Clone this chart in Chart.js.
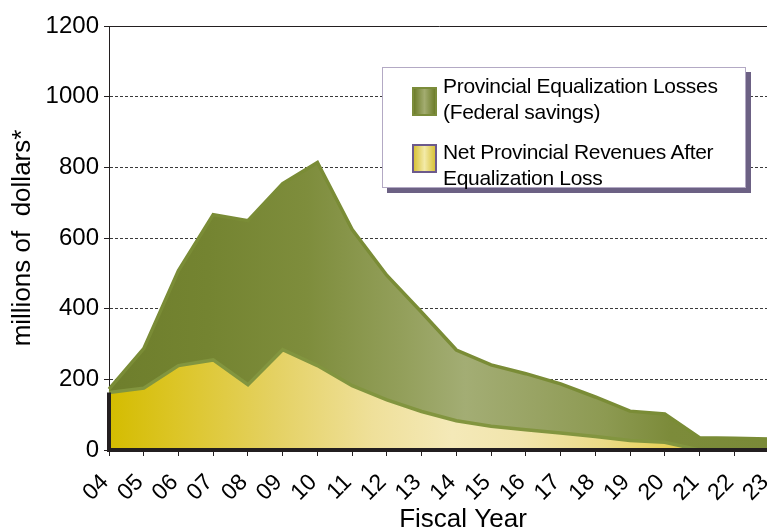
<!DOCTYPE html>
<html>
<head>
<meta charset="utf-8">
<title>Equalization losses</title>
<script src="https://cdn.jsdelivr.net/npm/chart.js@4.4.1/dist/chart.umd.min.js"></script>
<style>
  html, body { margin: 0; padding: 0; background: #fff; overflow: hidden; }
  #wrap { position: relative; width: 767px; height: 531px; overflow: hidden; }
  #chart { position: absolute; left: 0; top: 0; }
  .legend {
    position: absolute; left: 382px; top: 67px; width: 362px; height: 119px;
    background: #fff; border: 1px solid #b3a9c4; box-shadow: 5px 5px 0 #6c6184;
    font-family: Arial, "Liberation Sans", sans-serif; font-size: 21px;
    letter-spacing: -0.3px; line-height: 26px; color: #000;
  }
  .legend .swatch { position: absolute; left: 29px; width: 21px; height: 25px; border: 2px solid; }
  .legend .text { position: absolute; left: 60px; width: 290px; }
</style>
</head>
<body>
<div id="wrap">
  <canvas id="chart" width="790" height="531"></canvas>
  <div class="legend" id="legend"></div>
</div>
<script>
const years = ['04', '05', '06', '07', '08', '09', '10', '11', '12', '13',
               '14', '15', '16', '17', '18', '19', '20', '21', '22', '23'];

// net provincial revenues after the equalization loss (bottom layer)
const netRevenues = [163, 175, 239, 255, 185, 284, 239, 182, 142, 109,
                     83, 67, 57, 48, 38, 27, 22, 0, 0, 0];

// equalization losses, stacked on top of the net revenues
const equalizationLosses = [9, 112, 269, 411, 464, 470, 575, 442, 352, 281,
                            200, 174, 159, 139, 112, 83, 80, 35, 33, 31];

const yTicks = [0, 200, 400, 600, 800, 1000, 1200];

const labelLosses = 'Provincial Equalization Losses (Federal savings)';
const labelNet = 'Net Provincial Revenues After Equalization Loss';

const FONT = 'Arial, "Liberation Sans", sans-serif';

function horizontalGradient(stops) {
    return function(context) {
        const chart = context.chart;
        const area = chart.chartArea;
        if (!area) return null;
        const g = chart.ctx.createLinearGradient(area.left, 0, area.right, 0);
        stops.forEach(s => g.addColorStop(s[0], s[1]));
        return g;
    };
}

const yellowStops = [
    [0, '#d4bc00'], [0.1, '#dcc526'], [0.25, '#e4d162'], [0.4, '#efe09a'],
    [0.52, '#f4e9b8'], [0.62, '#f1e5ad'], [0.75, '#ebdb86'], [0.85, '#e6d055'], [1, '#e0c840']
];
const greenStops = [
    [0, '#6e7e2c'], [0.15, '#748431'], [0.3, '#7e8d3c'], [0.45, '#94a05c'],
    [0.54, '#a3ad74'], [0.65, '#98a363'], [0.75, '#8d9a52'], [0.85, '#7c8b3a'], [1, '#7a8a38']
];

// thick baseline and dark left edge of the filled area, drawn over the fills
const baselinePlugin = {
    id: 'baseline',
    afterDatasetsDraw(chart) {
        const {ctx, chartArea, scales} = chart;
        const y0 = scales.y.getPixelForValue(0);
        const yFirst = scales.y.getPixelForValue(netRevenues[0]);
        ctx.save();
        ctx.strokeStyle = '#231f20';
        ctx.lineWidth = 4;
        ctx.beginPath();
        ctx.moveTo(chartArea.left, yFirst);
        ctx.lineTo(chartArea.left, y0);
        ctx.lineTo(chartArea.right + 30, y0);
        ctx.stroke();
        ctx.restore();
    }
};

// x axis title sits a little right of the plot centre
const xTitlePlugin = {
    id: 'xTitle',
    afterDraw(chart) {
        const {ctx, chartArea} = chart;
        ctx.save();
        ctx.font = '26px ' + FONT;
        ctx.fillStyle = '#000';
        ctx.textAlign = 'center';
        ctx.textBaseline = 'alphabetic';
        ctx.fillText('Fiscal Year', (chartArea.left + chartArea.right) / 2 + 24, chart.height - 4);
        ctx.restore();
    }
};

const chart = new Chart(document.getElementById('chart'), {
    type: 'line',
    data: {
        labels: years,
        datasets: [{
            label: labelNet,
            data: netRevenues,
            fill: 'origin',
            backgroundColor: horizontalGradient(yellowStops),
            borderColor: '#82953f',
            borderWidth: 3.5,
            pointRadius: 0,
            tension: 0
        }, {
            label: labelLosses,
            data: equalizationLosses,
            fill: '-1',
            backgroundColor: horizontalGradient(greenStops),
            borderColor: '#7a8c36',
            borderWidth: 3.5,
            pointRadius: 0,
            tension: 0
        }]
    },
    options: {
        responsive: false,
        animation: false,
        devicePixelRatio: 1,
        layout: { padding: { top: 26, right: 21, left: 0, bottom: 0 } },
        plugins: {
            legend: { display: false },
            tooltip: { enabled: false }
        },
        scales: {
            x: {
                stacked: true,
                offset: false,
                afterFit: function(scale) {
                    scale.height = 81;
                    scale.paddingLeft = 0;
                    scale.paddingRight = 0;
                },
                grid: {
                    drawOnChartArea: false,
                    tickLength: 6,
                    tickColor: '#231f20',
                    color: '#231f20'
                },
                border: { display: true, color: '#231f20', width: 1 },
                ticks: {
                    autoSkip: false,
                    minRotation: 45,
                    maxRotation: 45,
                    padding: 13,
                    labelOffset: -4,
                    color: '#000',
                    font: { family: FONT, size: 23 }
                }
            },
            y: {
                stacked: true,
                min: 0,
                max: 1200,
                afterFit: function(scale) { scale.width = 109; },
                afterBuildTicks: function(scale) {
                    scale.ticks = yTicks.map(v => ({ value: v }));
                },
                grid: {
                    color: function(ctx) { return ctx.tick && ctx.tick.value === 1200 ? '#231f20' : '#3a3a3a'; },
                    lineWidth: 1,
                    tickLength: 5,
                    tickColor: '#231f20'
                },
                border: {
                    display: true,
                    color: '#231f20',
                    width: 1,
                    dash: function(ctx) { return ctx.tick && ctx.tick.value === 1200 ? [] : [3, 2]; }
                },
                ticks: {
                    padding: 5,
                    color: '#000',
                    font: { family: FONT, size: 24 },
                    callback: function(value) { return String(value); }
                },
                title: {
                    display: true,
                    text: 'millions of  dollars*',
                    color: '#000',
                    font: { family: FONT, size: 26 },
                    padding: { top: 7, bottom: 0 }
                }
            }
        }
    },
    plugins: [baselinePlugin, xTitlePlugin]
});

// legend box built from the dataset labels, losses first
const swatches = {};
swatches[labelLosses] = {
    background: 'linear-gradient(to right, #6d7d2b, #a3ac70 50%, #6d7d2b)',
    border: '#7b8c3a'
};
swatches[labelNet] = {
    background: 'linear-gradient(to right, #d8c23a, #f3eaa8 50%, #d8c23a)',
    border: '#6c5a8c'
};

const legendEl = document.getElementById('legend');
const legendOrder = [chart.data.datasets[1], chart.data.datasets[0]];
legendOrder.forEach(function(ds, i) {
    const sw = document.createElement('div');
    sw.className = 'swatch';
    sw.style.top = (19 + i * 57) + 'px';
    sw.style.background = swatches[ds.label].background;
    sw.style.borderColor = swatches[ds.label].border;
    legendEl.appendChild(sw);

    const txt = document.createElement('div');
    txt.className = 'text';
    txt.style.top = (5 + i * 66) + 'px';
    txt.textContent = ds.label;
    legendEl.appendChild(txt);
});
</script>
</body>
</html>
